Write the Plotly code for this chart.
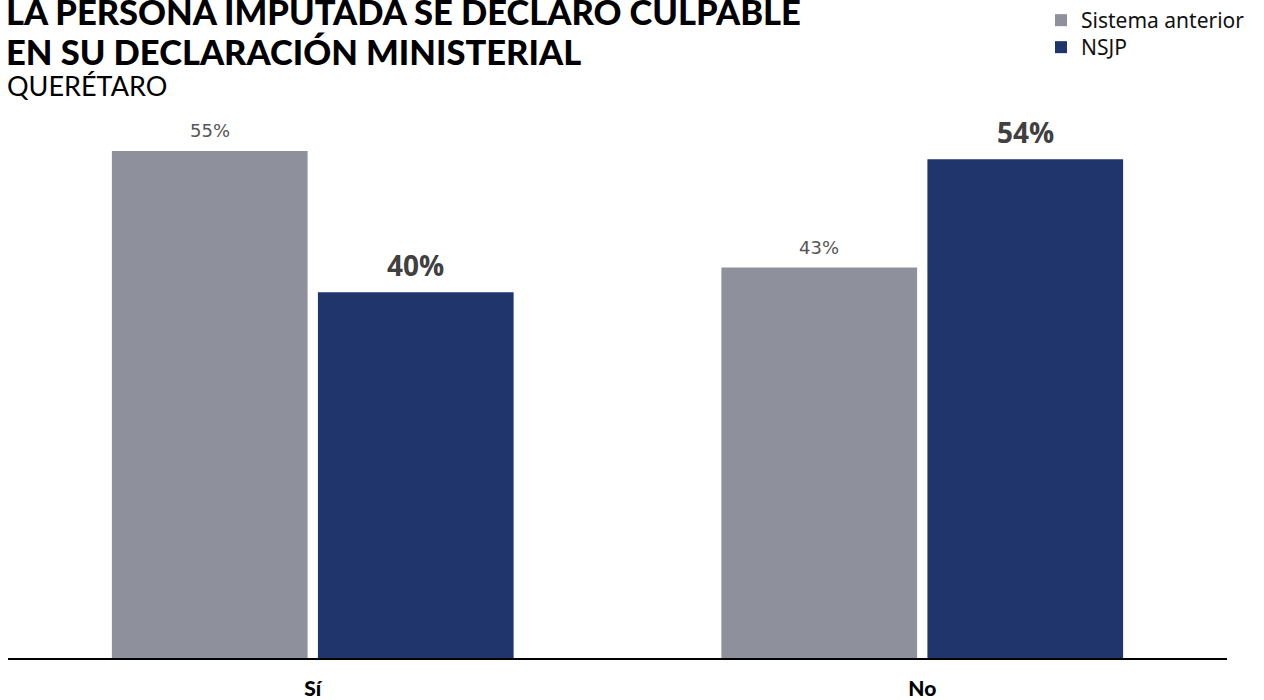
import plotly.graph_objects as go

categories = ["Sí", "No"]
series_names = ["Sistema anterior", "NSJP"]
sistema_anterior = [55.3, 42.6]
nsjp = [39.9, 54.4]
colors = ["#8E919C", "#20356B"]

title_line1 = "LA PERSONA IMPUTADA SE DECLARO CULPABLE"
title_line2 = "EN SU DECLARACIÓN MINISTERIAL"
subtitle = "QUERÉTARO"

BARGAP = 0.324
fig = go.Figure()
all_values = [sistema_anterior, nsjp]
legend_ids = ["legend", "legend2"]
for name, vals, col, lg in zip(series_names, all_values, colors, legend_ids):
    fig.add_trace(go.Bar(
        x=categories, y=vals, name=name, marker=dict(color=col, line=dict(width=0)),
        legend=lg,
    ))

# data labels from data
label_styles = [
    dict(family="DejaVu Sans", size=18, color="#555555"),
    dict(family="Open Sans", size=28, color="#404040", weight=700),
]
label_shift = [8, 6]
off = (1 - BARGAP) / 4
for s, (vals, st) in enumerate(zip(all_values, label_styles)):
    for i, v in enumerate(vals):
        fig.add_annotation(
            x=i + (-off if s == 0 else off), y=v, xref="x", yref="y",
            text=f"{v:.0f}%", showarrow=False, yanchor="bottom",
            yshift=label_shift[s], font=st,
        )

H_PLOT = 550
def py(p):
    return (658 - p) / H_PLOT

fig.add_annotation(x=-4 / 1219, y=py(11), xref="paper", yref="paper", xanchor="left", yanchor="middle",
                   text=title_line1, showarrow=False,
                   font=dict(family="Lato", size=34.5, color="#000000", weight=900))
fig.add_annotation(x=-4 / 1219, y=py(51), xref="paper", yref="paper", xanchor="left", yanchor="middle",
                   text=title_line2, showarrow=False,
                   font=dict(family="Lato", size=34.5, color="#000000", weight=900))
fig.add_annotation(x=-3 / 1219, y=py(86), xref="paper", yref="paper", xanchor="left", yanchor="middle",
                   text=subtitle, showarrow=False,
                   font=dict(family="Lato", size=27, color="#000000", weight=400))

legend_common = dict(xref="container", yref="container", xanchor="left", yanchor="top",
                     font=dict(family="Noto Sans", size=21, color="#111111"),
                     itemwidth=30, bgcolor="rgba(0,0,0,0)")
fig.update_layout(
    width=1264, height=700,
    margin=dict(l=8, r=37, t=108, b=42, autoexpand=False),
    paper_bgcolor="white", plot_bgcolor="white",
    barmode="group", bargap=BARGAP, bargroupgap=0.05,
    showlegend=True,
    legend=dict(x=1041 / 1264, y=1 - 0 / 700, **legend_common),
    legend2=dict(x=1041 / 1264, y=1 - 27 / 700, **legend_common),
    xaxis=dict(showline=True, linecolor="#000000", linewidth=2, showgrid=False,
               ticks="", ticklabelstandoff=11, automargin=False,
               tickfont=dict(family="Lato", size=21, color="#000000", weight=900)),
    yaxis=dict(range=[0, 60], visible=False, showgrid=False, zeroline=False, automargin=False),
)

fig.write_html("out.html", config={"displayModeBar": False},
               post_script="document.body.style.margin='0';document.body.style.padding='0';")
